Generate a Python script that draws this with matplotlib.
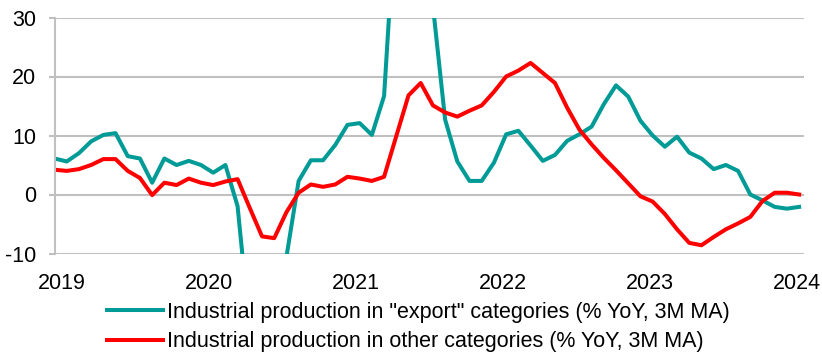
import numpy as np
import matplotlib
matplotlib.use("Agg")
import matplotlib.pyplot as plt

plt.rcParams['font.family'] = ['Liberation Sans', 'DejaVu Sans']
plt.rcParams['axes.unicode_minus'] = False

# monthly values, % YoY 3M MA
export_cat = [6.1, 5.6, 7.0, 9.0, 10.1, 10.4, 6.5, 6.1, 2.0, 6.1,
              5.0, 5.7, 5.0, 3.7, 5.0, -2.0, -23, -32, -26, -10.6,
              2.3, 5.8, 5.8, 8.4, 11.8, 12.1, 10.1, 16.7, 50, 68,
              55, 32, 12.7, 5.6, 2.3, 2.3, 5.4, 10.2, 10.8, 8.3,
              5.7, 6.7, 9.1, 10.2, 11.5, 15.3, 18.5, 16.6, 12.5, 10.0,
              8.1, 9.8, 7.1, 6.1, 4.3, 5.0, 4.0, 0.0, -1.0, -2.1,
              -2.4, -2.1]
other_cat = [4.2, 4.0, 4.3, 5.0, 6.0, 6.0, 4.0, 2.8, -0.1, 2.0,
             1.6, 2.7, 2.0, 1.6, 2.2, 2.6, -2.3, -7.1, -7.4, -3.0,
             0.3, 1.7, 1.3, 1.7, 3.0, 2.7, 2.3, 3.0, 9.9, 16.8,
             18.9, 15.1, 13.9, 13.2, 14.2, 15.1, 17.4, 20.0, 21.0, 22.3,
             20.6, 18.9, 14.7, 11.0, 8.5, 6.2, 4.1, 1.9, -0.3, -1.2,
             -3.3, -5.9, -8.2, -8.6, -7.2, -5.9, -4.9, -3.8, -1.1, 0.3,
             0.3, 0.0]
years = ['2019', '2020', '2021', '2022', '2023', '2024']
yticks = [-10, 0, 10, 20, 30]

x = np.arange(len(export_cat))
grid_col = '#C0C0C0'
fs = 15.5

fig = plt.figure(figsize=(8.22, 3.53), dpi=100)
ax = fig.add_axes([54.5 / 822, 1 - 253.5 / 353, (804 - 54.5) / 822, 236 / 353])

ax.plot(x, export_cat, color='#009B96', lw=2.9,
        label='Industrial production in "export" categories (% YoY, 3M MA)')
ax.plot(x, other_cat, color='#FF0000', lw=2.9,
        label='Industrial production in other categories (% YoY, 3M MA)')

ax.set_ylim(-10, 30)
ax.set_xlim(0, 61.4)
ax.set_yticks(yticks)
ax.set_xticks([0.6 + 12.05 * i for i in range(len(years))])
ax.set_xticklabels(years)
ax.tick_params(axis='x', length=0, labelsize=fs, pad=14)
ax.tick_params(axis='y', length=4.3, width=1.5, color=grid_col, labelsize=fs, pad=9)
ax.grid(axis='y', color=grid_col, lw=1.5)
ax.set_axisbelow(True)
for s in ['top', 'right', 'bottom']:
    ax.spines[s].set_visible(False)
ax.spines['left'].set_color(grid_col)
ax.spines['left'].set_linewidth(1.5)

fig.legend(loc='upper left', bbox_to_anchor=(107 / 822, 1 - 302 / 353),
           frameon=False, fontsize=fs, handlelength=2.6, handletextpad=0.18,
           labelspacing=0.38, borderpad=0, borderaxespad=0)

fig.savefig('out.png', dpi=100)
